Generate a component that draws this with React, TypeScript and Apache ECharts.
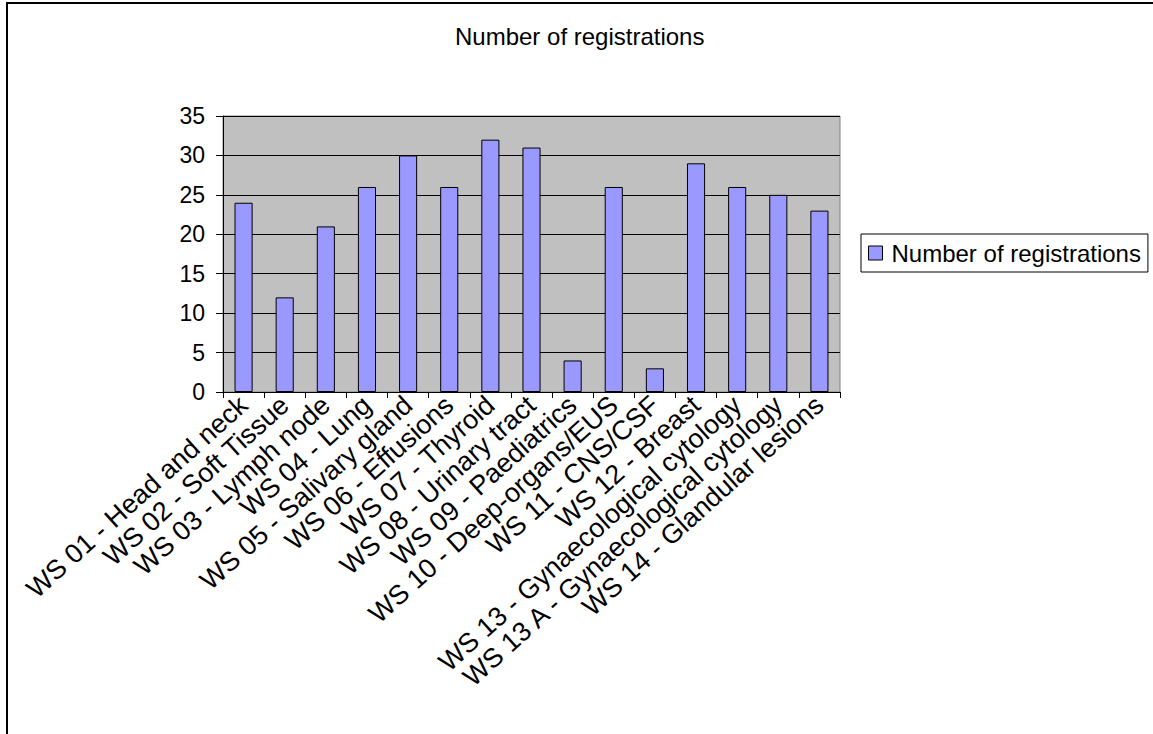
import React, { useEffect, useRef } from "react";
import * as echarts from "echarts";

const categories = [
  "WS 01 - Head and neck",
  "WS 02 - Soft Tissue",
  "WS 03 - Lymph node",
  "WS 04 - Lung",
  "WS 05 - Salivary gland",
  "WS 06 - Effusions",
  "WS 07 - Thyroid",
  "WS 08 - Urinary tract",
  "WS 09 - Paediatrics",
  "WS 10 - Deep-organs/EUS",
  "WS 11 - CNS/CSF",
  "WS 12 - Breast",
  "WS 13 - Gynaecological cytology",
  "WS 13 A - Gynaecological cytology",
  "WS 14 - Glandular lesions",
];
const registrations = [24, 12, 21, 26, 30, 26, 32, 31, 4, 26, 3, 29, 26, 25, 23];
const seriesName = "Number of registrations";
const titleText = "Number of registrations";

const FONT = "'Liberation Sans', Arial, sans-serif";

export default function App() {
  const ref = useRef<HTMLDivElement>(null);
  useEffect(() => {
    if (!ref.current) return;
    const chart = echarts.init(ref.current, null, { renderer: "svg" });
    chart.setOption({
      animation: false,
      backgroundColor: "#ffffff",
      title: {
        text: titleText,
        left: 455,
        top: 24,
        padding: 0,
        textStyle: { fontFamily: FONT, fontSize: 24, fontWeight: "normal", color: "#000" },
      },
      graphic: [
        {
          type: "rect",
          shape: { x: 7, y: 3, width: 1200, height: 800 },
          style: { fill: "none", stroke: "#000", lineWidth: 2 },
          silent: true,
        },
      ],
      legend: {
        left: 861,
        top: 234,
        orient: "vertical",
        borderColor: "#000",
        borderWidth: 1,
        padding: [7, 7, 7, 7],
        itemWidth: 14,
        itemHeight: 14,
        itemGap: 6,
        icon: "rect",
        itemStyle: { color: "#9999FF", borderColor: "#000", borderWidth: 1 },
        textStyle: { fontFamily: FONT, fontSize: 24, color: "#000", padding: [0, 0, 0, 4] },
        data: [seriesName],
      },
      grid: {
        left: 223,
        top: 116,
        width: 617,
        height: 276,
        show: true,
        backgroundColor: "#C0C0C0",
        borderColor: "#808080",
        borderWidth: 1,
      },
      xAxis: {
        type: "category",
        data: categories,
        axisLine: { show: true, lineStyle: { color: "#000", width: 1 } },
        axisTick: { show: true, length: 6, lineStyle: { color: "#000" } },
        axisLabel: {
          rotate: 42,
          interval: 0,
          margin: 9,
          fontFamily: FONT,
          fontSize: 27,
          color: "#000",
        },
      },
      yAxis: {
        type: "value",
        min: 0,
        max: 35,
        interval: 5,
        axisLine: { show: true, lineStyle: { color: "#000", width: 1 } },
        axisTick: { show: true, length: 7, lineStyle: { color: "#000" } },
        splitLine: { show: true, lineStyle: { color: "#000", width: 1 } },
        axisLabel: { fontFamily: FONT, fontSize: 23, color: "#000", margin: 18 },
      },
      series: [
        {
          name: seriesName,
          type: "bar",
          data: registrations,
          barWidth: "44%",
          itemStyle: { color: "#9999FF", borderColor: "#000", borderWidth: 1 },
        },
      ],
    });
    return () => chart.dispose();
  }, []);
  return (
    <div
      ref={ref}
      style={{ position: "fixed", left: 0, top: 0, width: 1153, height: 734 }}
    />
  );
}
